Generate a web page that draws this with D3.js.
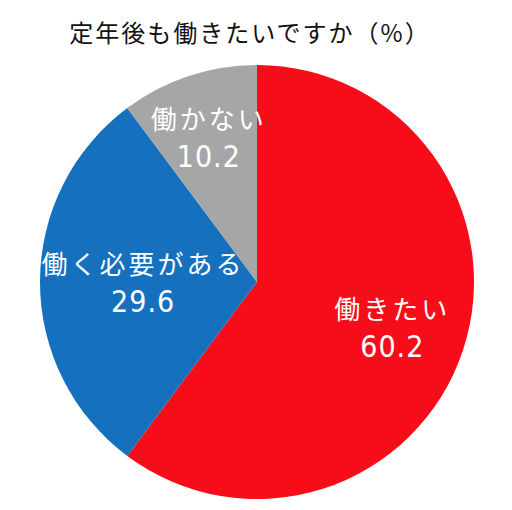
<!DOCTYPE html>
<html>
<head>
<meta charset="utf-8">
<script src="https://d3js.org/d3.v7.min.js"></script>
<style>
  body { margin: 0; background: #fff; }
  text { font-family: "Noto Sans CJK JP", sans-serif; }
  text.num { font-family: "DejaVu Sans", sans-serif; font-stretch: condensed; }
</style>
</head>
<body>
<div id="chart"></div>
<script>
var title = "定年後も働きたいですか（%）";
var categories = ["働きたい", "働く必要がある", "働かない"];
var values = [60.2, 29.6, 10.2];
var colors = ["#f70d1a", "#1570be", "#a6a6a6"];

var width = 512, height = 510;
var cx = 257, cy = 282, radius = 217;
// label distance from centre, as share of radius (like excel best fit)
var labelR = [0.657, 0.525, 0.705];

var svg = d3.select("#chart")
  .append("svg")
  .attr("width", width)
  .attr("height", height);

svg.append("text")
  .attr("x", 250)
  .attr("y", 42)
  .attr("text-anchor", "middle")
  .style("font-size", "24px")
  .style("letter-spacing", "2px")
  .style("fill", "#111")
  .text(title);

var data = categories.map(function(c, i) {
  return { name: c, value: values[i] };
});

var pie = d3.pie()
  .sort(null)
  .value(function(d) { return d.value; });

var arc = d3.arc().innerRadius(0).outerRadius(radius);

var g = svg.append("g")
  .attr("transform", "translate(" + cx + "," + cy + ")");

var slices = pie(data);

g.selectAll("path")
  .data(slices)
  .enter()
  .append("path")
  .attr("d", arc)
  .style("fill", function(d, i) { return colors[i]; });

var labels = g.selectAll("g.lbl")
  .data(slices)
  .enter()
  .append("g")
  .attr("class", "lbl")
  .attr("transform", function(d, i) {
    var r = radius * labelR[i];
    var a = (d.startAngle + d.endAngle) / 2;
    return "translate(" + (Math.sin(a) * r) + "," + (-Math.cos(a) * r) + ")";
  });

labels.append("text")
  .attr("y", -8)
  .attr("text-anchor", "middle")
  .style("font-size", "26px")
  .style("letter-spacing", "3px")
  .style("fill", "#fff")
  .text(function(d) { return d.data.name; });

labels.append("text")
  .attr("class", "num")
  .attr("y", 30)
  .attr("text-anchor", "middle")
  .style("font-size", "30px")
  .style("letter-spacing", "1px")
  .style("fill", "#fff")
  .text(function(d) { return d3.format(".1f")(d.data.value); });
</script>
</body>
</html>
